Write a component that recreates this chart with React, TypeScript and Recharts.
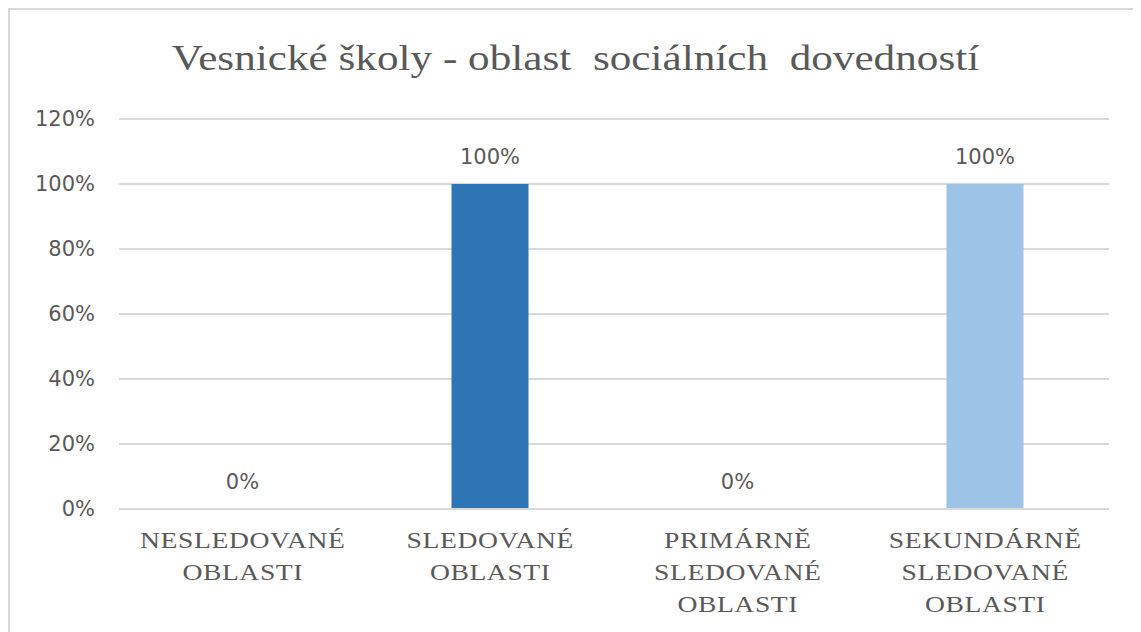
import React from "react";
import { BarChart, Bar, XAxis, YAxis, CartesianGrid, Cell, LabelList } from "recharts";

const TITLE = "Vesnické školy - oblast  sociálních  dovedností";
const CATEGORIES = [
  "NESLEDOVANÉ\nOBLASTI",
  "SLEDOVANÉ\nOBLASTI",
  "PRIMÁRNĚ\nSLEDOVANÉ\nOBLASTI",
  "SEKUNDÁRNĚ\nSLEDOVANÉ\nOBLASTI",
];
const VALUES = [0, 100, 0, 100];
const BAR_COLORS = ["#5B9BD5", "#2E75B6", "#BDD7EE", "#9DC3E6"];
const Y_TICKS = [0, 20, 40, 60, 80, 100, 120];

const data = CATEGORIES.map((name, i) => ({ name, value: VALUES[i] }));

const TEXT = "#595959";
const GRID = "#d9d9d9";

// the source image is stretched sideways, so the serif labels get a scaleX
function CategoryTick(props: any) {
  const { x, y, payload } = props;
  const lines = String(payload.value).split("\n");
  return (
    <g transform={`translate(${x},0) scale(1.2,1) translate(${-x},0)`}>
      <text
        x={x}
        y={y}
        textAnchor="middle"
        fill={TEXT}
        fontFamily="'Liberation Serif', 'Times New Roman', serif"
        fontSize={23}
        letterSpacing={0.5}
      >
        {lines.map((l, i) => (
          <tspan key={i} x={x} dy={i === 0 ? 31 : 32}>
            {l}
          </tspan>
        ))}
      </text>
    </g>
  );
}

export default function App() {
  return (
    <div
      style={{
        position: "relative",
        width: 1131,
        height: 622,
        borderTop: `2px solid ${GRID}`,
        borderLeft: `2px solid ${GRID}`,
        background: "#fff",
      }}
    >
      <div
        style={{
          position: "absolute",
          left: 0,
          top: 26,
          width: 1131,
          textAlign: "center",
          fontFamily: "'Liberation Serif', 'Times New Roman', serif",
          fontSize: 36,
          color: TEXT,
          whiteSpace: "pre",
          lineHeight: "44px",
          transform: "scaleX(1.2)",
          transformOrigin: "center",
        }}
      >
        {TITLE}
      </div>
      <BarChart
        width={1131}
        height={622}
        data={data}
        margin={{ top: 109, right: 32, left: 0, bottom: 23 }}
        barCategoryGap={0}
      >
        <CartesianGrid horizontal vertical={false} stroke={GRID} strokeWidth={2} />
        <XAxis
          dataKey="name"
          axisLine={{ stroke: GRID, strokeWidth: 2 }}
          tickLine={false}
          height={100}
          interval={0}
          tick={<CategoryTick />}
        />
        <YAxis
          domain={[0, 120]}
          ticks={Y_TICKS}
          tickFormatter={(v: number) => `${v}%`}
          axisLine={false}
          tickLine={false}
          width={109}
          tickMargin={18}
          tick={{ fill: TEXT, fontSize: 21, fontFamily: "'DejaVu Sans', sans-serif" }}
        />
        <Bar dataKey="value" barSize={77} minPointSize={0.01} isAnimationActive={false}>
          {data.map((d, i) => (
            <Cell key={d.name} fill={d.value === 0 ? "none" : BAR_COLORS[i]} />
          ))}
          <LabelList
            dataKey="value"
            position="top"
            offset={20}
            formatter={(v: any) => `${v}%`}
            fill={TEXT}
            fontSize={21}
            fontFamily="'DejaVu Sans', sans-serif"
          />
        </Bar>
      </BarChart>
    </div>
  );
}
